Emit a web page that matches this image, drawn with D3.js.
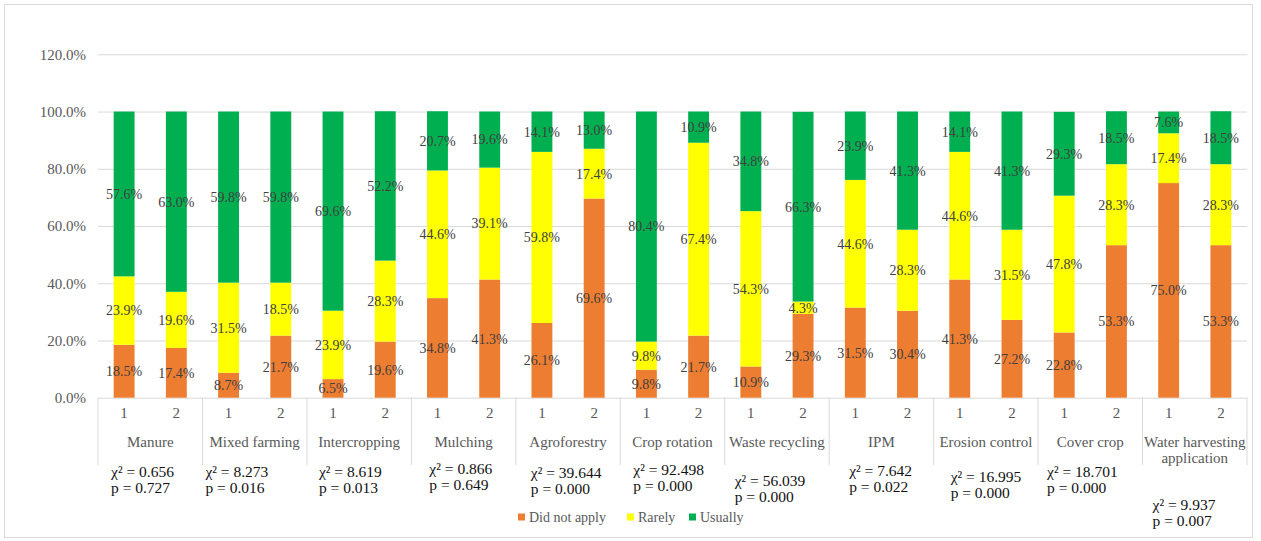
<!DOCTYPE html>
<html>
<head>
<meta charset="utf-8">
<script src="https://cdn.jsdelivr.net/npm/d3@7"></script>
<style>
  body { margin: 0; background: #fff; }
  svg, svg text { font-family: "Liberation Serif", "DejaVu Serif", serif !important; }
</style>
</head>
<body>
<svg id="chart" width="1261" height="541"></svg>
<script>
// data (percent of respondents, group 1 and group 2)
const practices = ['Manure', 'Mixed farming', 'Intercropping', 'Mulching', 'Agroforestry',
  'Crop rotation', 'Waste recycling', 'IPM', 'Erosion control', 'Cover crop',
  'Water harvesting application']
const groups = ['1', '2']
const series = ['Did not apply', 'Rarely', 'Usually']
const didNotApply = [[18.5, 17.4], [8.7, 21.7], [6.5, 19.6], [34.8, 41.3], [26.1, 69.6],
  [9.8, 21.7], [10.9, 29.3], [31.5, 30.4], [41.3, 27.2], [22.8, 53.3], [75.0, 53.3]]
const rarely = [[23.9, 19.6], [31.5, 18.5], [23.9, 28.3], [44.6, 39.1], [59.8, 17.4],
  [9.8, 67.4], [54.3, 4.3], [44.6, 28.3], [44.6, 31.5], [47.8, 28.3], [17.4, 28.3]]
const usually = [[57.6, 63.0], [59.8, 59.8], [69.6, 52.2], [20.7, 19.6], [14.1, 13.0],
  [80.4, 10.9], [34.8, 66.3], [23.9, 41.3], [14.1, 41.3], [29.3, 18.5], [7.6, 18.5]]
const chiSquare = [0.656, 8.273, 8.619, 0.866, 39.644, 92.498, 56.039, 7.642, 16.995, 18.701, 9.937]
const pValues = [0.727, 0.016, 0.013, 0.649, 0.000, 0.000, 0.000, 0.022, 0.000, 0.000, 0.007]
const yTicks = [0, 0.2, 0.4, 0.6, 0.8, 1.0, 1.2]

// hand placed statistic boxes: [offset from category left, y of first line]
const statPlacement = [[13, 472], [3, 472], [12, 472], [18, 469], [15, 473], [13, 470],
  [10, 481], [20, 471], [17, 477], [9, 472], [10, 505]]

const colors = { 'Did not apply': '#ED7D31', 'Rarely': '#FFFF00', 'Usually': '#00B050' }
const gridColor = '#D9D9D9'
const axisText = '#595959'
const serif = '"Liberation Serif", "DejaVu Serif", serif'

const svg = d3.select('#chart')
  .attr('font-family', serif)

// outer chart border
svg.append('rect')
  .attr('x', 4.5).attr('y', 4.5)
  .attr('width', 1248).attr('height', 533)
  .attr('fill', 'none')
  .attr('stroke', gridColor)

const plot = { left: 98, right: 1247, top: 54.3, bottom: 397.7 }

const x0 = d3.scaleBand()
  .domain(practices)
  .range([plot.left, plot.right])
const x1 = d3.scaleBand()
  .domain(groups)
  .range([0, x0.bandwidth()])
  .paddingInner(0.6)
  .paddingOuter(0.3)
const y = d3.scaleLinear()
  .domain([0, 1.2])
  .range([plot.bottom, plot.top])

// gridlines and y labels
const yAxis = d3.axisLeft(y)
  .tickValues(yTicks)
  .tickSize(-(plot.right - plot.left))
  .tickPadding(12)
  .tickFormat(d3.format('.1%'))
const yAxisG = svg.append('g')
  .attr('transform', `translate(${ plot.left }, 0)`)
  .call(yAxis)
  .attr('font-family', serif)
yAxisG.select('.domain').remove()
yAxisG.selectAll('line').attr('stroke', gridColor)
yAxisG.selectAll('text')
  .attr('fill', axisText)
  .attr('font-size', 15)

// flatten into rows for stacking
const rows = []
practices.forEach((p, i) => {
  groups.forEach((g, j) => {
    rows.push({
      practice: p,
      group: g,
      'Did not apply': didNotApply[i][j] / 100,
      'Rarely': rarely[i][j] / 100,
      'Usually': usually[i][j] / 100
    })
  })
})
const stacked = d3.stack().keys(series)(rows)

const barX = d => x0(d.data.practice) + x1(d.data.group)

stacked.forEach(layer => {
  svg.append('g')
    .attr('class', 'series')
    .selectAll('rect')
    .data(layer)
    .enter()
    .append('rect')
    .attr('x', barX)
    .attr('y', d => y(d[1]))
    .attr('width', x1.bandwidth())
    .attr('height', d => y(d[0]) - y(d[1]))
    .attr('fill', colors[layer.key])
})

// data labels
stacked.forEach(layer => {
  svg.append('g')
    .selectAll('text')
    .data(layer)
    .enter()
    .append('text')
    .attr('x', d => barX(d) + x1.bandwidth() / 2)
    .attr('y', d => y((d[0] + d[1]) / 2))
    .attr('dy', '0.35em')
    .attr('text-anchor', 'middle')
    .attr('fill', '#404040')
    .attr('font-size', 14)
    .text(d => d3.format('.1f')((d[1] - d[0]) * 100) + '%')
})

// multi level category axis
const boundaries = practices.map(p => x0(p)).concat([plot.right])
svg.append('g')
  .selectAll('line')
  .data(boundaries)
  .enter()
  .append('line')
  .attr('x1', d => d).attr('x2', d => d)
  .attr('y1', plot.bottom).attr('y2', 465)
  .attr('stroke', gridColor)

const subLabels = svg.append('g')
practices.forEach(p => {
  groups.forEach(g => {
    subLabels.append('text')
      .attr('x', x0(p) + x1(g) + x1.bandwidth() / 2)
      .attr('y', 413)
      .attr('dy', '0.35em')
      .attr('text-anchor', 'middle')
      .attr('fill', axisText)
      .attr('font-size', 15)
      .text(g)
  })
})

const catLabels = svg.append('g')
practices.forEach(p => {
  const words = p === 'Water harvesting application' ? ['Water harvesting', 'application'] : [p]
  words.forEach((w, k) => {
    catLabels.append('text')
      .attr('x', x0(p) + x0.bandwidth() / 2)
      .attr('y', 442 + k * 15.5)
      .attr('dy', '0.35em')
      .attr('text-anchor', 'middle')
      .attr('fill', axisText)
      .attr('font-size', 15)
      .text(w)
  })
})

// chi-square annotations
const stats = svg.append('g')
practices.forEach((p, i) => {
  const [dx, ty] = statPlacement[i]
  stats.append('text')
    .attr('x', x0(p) + dx)
    .attr('y', ty)
    .attr('dy', '0.35em')
    .attr('fill', '#111')
    .attr('font-size', 15.5)
    .text('χ² = ' + d3.format('.3f')(chiSquare[i]))
  stats.append('text')
    .attr('x', x0(p) + dx)
    .attr('y', ty + 16)
    .attr('dy', '0.35em')
    .attr('fill', '#111')
    .attr('font-size', 15.5)
    .text('p = ' + d3.format('.3f')(pValues[i]))
})

// legend
const legendItems = [
  { key: 'Did not apply', x: 518 },
  { key: 'Rarely', x: 627 },
  { key: 'Usually', x: 689 }
]
const legend = svg.append('g').attr('class', 'legend')
legendItems.forEach(t => {
  legend.append('rect')
    .attr('x', t.x)
    .attr('y', 513.5)
    .attr('width', 7)
    .attr('height', 7)
    .attr('fill', colors[t.key])
  legend.append('text')
    .attr('x', t.x + 11)
    .attr('y', 517)
    .attr('dy', '0.35em')
    .attr('fill', axisText)
    .attr('font-size', 14)
    .text(t.key)
})
</script>
</body>
</html>
